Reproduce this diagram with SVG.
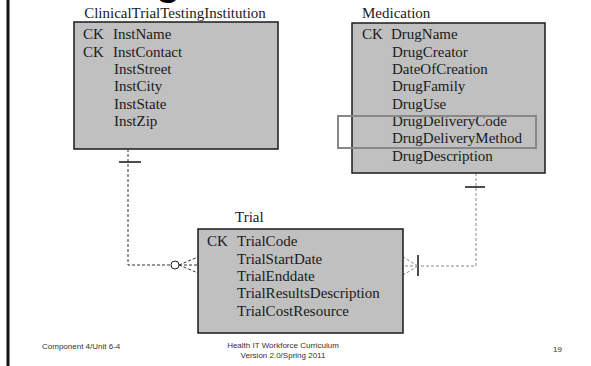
<svg xmlns="http://www.w3.org/2000/svg" width="591" height="366" viewBox="0 0 591 366">
<style>
.box{fill:#c0c0c0;stroke:#1a1a1a;stroke-width:1.5}
.t{font-family:"Liberation Serif","Times New Roman",serif;font-size:15px;fill:#1a1a1a}
.f{font-family:"Liberation Sans",Arial,sans-serif;font-size:8px;fill:#333}
.dk{stroke:#333;stroke-width:1;stroke-dasharray:3 2;fill:none}
.lt{stroke:#888;stroke-width:1;stroke-dasharray:3 2;fill:none}
.solid{stroke:#111;stroke-width:1.5;fill:none}
</style>
<rect width="591" height="366" fill="#fff"/>
<line x1="8" y1="0" x2="8" y2="366" stroke="#111" stroke-width="3"/>
<text x="156" y="-5" font-family="Liberation Sans,Arial,sans-serif" font-size="40" font-weight="bold" fill="#000">g</text>

<g id="connectors">
  <polyline class="dk" points="128,149 128,265 171,265"/>
  <line class="solid" x1="119" y1="162" x2="141" y2="162"/>
  <circle cx="175" cy="265" r="4" fill="#fff" stroke="#222" stroke-width="1"/>
  <line class="dk" x1="179" y1="265" x2="198" y2="257"/>
  <line class="dk" x1="179" y1="265" x2="198" y2="265"/>
  <line class="dk" x1="179" y1="265" x2="198" y2="273"/>
  <polyline class="lt" points="476,173 476,266 418,266"/>
  <line class="solid" x1="465" y1="187" x2="485" y2="187"/>
  <line class="solid" x1="418" y1="255" x2="418" y2="276"/>
  <line class="lt" x1="418" y1="266" x2="403" y2="257"/>
  <line class="lt" x1="418" y1="266" x2="403" y2="266"/>
  <line class="lt" x1="418" y1="266" x2="403" y2="275"/>
</g>

<g id="institution">
  <text class="t" x="175" y="18" text-anchor="middle">ClinicalTrialTestingInstitution</text>
  <rect class="box" x="74" y="22" width="204" height="127"/>
  <text class="t" x="83" y="39">CK</text><text class="t" x="113" y="39">InstName</text>
  <text class="t" x="83" y="56.5">CK</text><text class="t" x="113" y="56.5">InstContact</text>
  <text class="t" x="114" y="74">InstStreet</text>
  <text class="t" x="114" y="91">InstCity</text>
  <text class="t" x="114" y="108.5">InstState</text>
  <text class="t" x="114" y="126">InstZip</text>
</g>

<g id="medication">
  <text class="t" x="362" y="18">Medication</text>
  <rect class="box" x="352" y="23" width="193" height="150"/>
  <text class="t" x="362" y="39">CK</text><text class="t" x="391" y="39">DrugName</text>
  <text class="t" x="392" y="56.5">DrugCreator</text>
  <text class="t" x="392" y="74">DateOfCreation</text>
  <text class="t" x="392" y="91">DrugFamily</text>
  <text class="t" x="392" y="108.5">DrugUse</text>
  <text class="t" x="392" y="126">DrugDeliveryCode</text>
  <text class="t" x="392" y="143">DrugDeliveryMethod</text>
  <text class="t" x="392" y="160.5">DrugDescription</text>
  <rect x="338" y="116" width="198" height="32" fill="none" stroke="#888" stroke-width="2"/>
</g>

<g id="trial">
  <text class="t" x="235" y="222">Trial</text>
  <rect class="box" x="198" y="229" width="205" height="104"/>
  <text class="t" x="207" y="246">CK</text><text class="t" x="237" y="246">TrialCode</text>
  <text class="t" x="237" y="263.5">TrialStartDate</text>
  <text class="t" x="237" y="281">TrialEnddate</text>
  <text class="t" x="237" y="298">TrialResultsDescription</text>
  <text class="t" x="237" y="315.5">TrialCostResource</text>
</g>

<g id="footer">
  <text class="f" x="42" y="349">Component 4/Unit 6-4</text>
  <text class="f" x="283" y="348" text-anchor="middle">Health IT Workforce Curriculum</text>
  <text class="f" x="283" y="358" text-anchor="middle">Version 2.0/Spring 2011</text>
  <text class="f" x="553" y="352">19</text>
</g>
</svg>
